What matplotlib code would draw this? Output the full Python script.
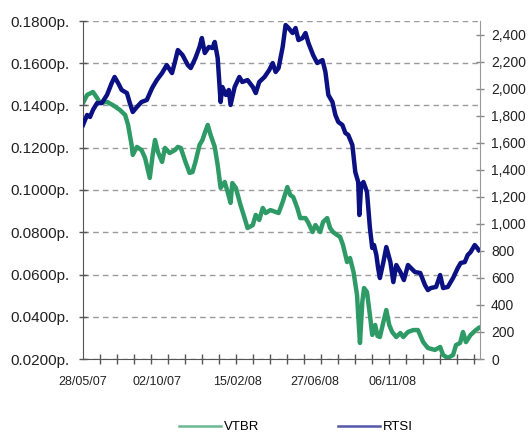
import matplotlib
matplotlib.use("Agg")
import matplotlib.pyplot as plt
import matplotlib.dates as mdates
from matplotlib.ticker import FuncFormatter
import pandas as pd

plt.rcParams['font.family'] = ['Liberation Sans', 'DejaVu Sans']

start = pd.Timestamp('2007-05-28')

# VTBR share price (left axis), days since 28/05/07
vtbr_days = [0, 7, 17, 24, 29, 41, 51, 63, 72, 77, 83, 85, 92, 100, 106, 114, 119, 123,
             128, 135, 140, 148, 157, 162, 167, 175, 182, 187, 192, 199, 204, 208, 213,
             218, 225, 230, 235, 242, 247, 252, 255, 261, 269, 276, 281, 290, 295, 301,
             307, 312, 320, 329, 334, 341, 349, 354, 359, 366, 371, 380, 385, 392, 397,
             405, 410, 417, 422, 427, 434, 439, 444, 451, 456, 462, 468, 470, 473, 477,
             480, 485, 490, 494, 499, 503, 507, 513, 518, 523, 528, 535, 542, 547, 555,
             564, 572, 581, 589, 601, 610, 615, 623, 632, 637, 644, 649, 654, 662, 671, 676]
vtbr = [0.1412, 0.1450, 0.1464, 0.1436, 0.1412, 0.1417, 0.1402, 0.1379, 0.1355, 0.1308,
        0.1213, 0.1166, 0.1204, 0.1189, 0.1152, 0.1057, 0.1166, 0.1237, 0.1180, 0.1133,
        0.1199, 0.1175, 0.1189, 0.1204, 0.1199, 0.1133, 0.1081, 0.1085, 0.1133, 0.1213,
        0.1237, 0.1270, 0.1308, 0.1260, 0.1204, 0.1118, 0.1010, 0.1038, 0.0991, 0.0939,
        0.1033, 0.1010, 0.0929, 0.0867, 0.0820, 0.0834, 0.0882, 0.0858, 0.0915, 0.0891,
        0.0905, 0.0896, 0.0891, 0.0943, 0.1014, 0.0976, 0.0967, 0.0915, 0.0867, 0.0867,
        0.0844, 0.0801, 0.0834, 0.0801, 0.0849, 0.0867, 0.0820, 0.0801, 0.0787, 0.0778,
        0.0740, 0.0659, 0.0678, 0.0612, 0.0503, 0.0408, 0.0276, 0.0470, 0.0536, 0.0517,
        0.0408, 0.0314, 0.0361, 0.0309, 0.0304, 0.0375, 0.0432, 0.0361, 0.0328, 0.0304,
        0.0323, 0.0304, 0.0328, 0.0337, 0.0337, 0.0280, 0.0252, 0.0243, 0.0257, 0.0219,
        0.0205, 0.0219, 0.0266, 0.0276, 0.0328, 0.0280, 0.0314, 0.0337, 0.0347]

# RTSI index (right axis)
rtsi_days = [0, 7, 12, 17, 24, 32, 41, 49, 54, 60, 66, 75, 80, 85, 92, 100, 109, 118, 126,
             135, 143, 152, 157, 162, 170, 179, 184, 192, 199, 203, 208, 215, 221, 225,
             230, 235, 238, 244, 249, 252, 259, 267, 272, 281, 290, 295, 301, 310, 318,
             324, 329, 334, 341, 346, 351, 358, 363, 368, 375, 380, 385, 393, 400, 409,
             414, 419, 426, 431, 436, 443, 448, 453, 460, 465, 470, 472, 475, 479, 485,
             490, 494, 497, 501, 504, 507, 513, 518, 525, 530, 535, 542, 548, 555, 560,
             567, 576, 584, 589, 594, 603, 610, 615, 623, 632, 640, 645, 652, 657, 662,
             669, 676]
rtsi = [1731, 1805, 1790, 1842, 1893, 1893, 1953, 2041, 2086, 2041, 1990, 1967, 1893, 1827,
        1864, 1901, 1916, 2004, 2063, 2115, 2174, 2115, 2197, 2285, 2248, 2174, 2152, 2226,
        2308, 2374, 2263, 2308, 2300, 2345, 2226, 1901, 2012, 1953, 1990, 1879, 2012, 2086,
        2049, 2063, 2012, 1967, 2049, 2086, 2137, 2189, 2123, 2152, 2308, 2470, 2448, 2411,
        2448, 2359, 2374, 2411, 2337, 2248, 2189, 2211, 2123, 1953, 1901, 1805, 1753, 1731,
        1672, 1657, 1583, 1383, 1309, 1065, 1287, 1309, 1235, 969, 821, 843, 769, 673, 599,
        717, 828, 717, 569, 695, 643, 584, 695, 673, 643, 636, 547, 510, 525, 533, 621, 525,
        533, 599, 673, 710, 717, 769, 791, 843, 806]

label_dates = ['2007-05-28', '2007-10-02', '2008-02-15', '2008-06-27', '2008-11-06']
left_ticks = [0.02, 0.04, 0.06, 0.08, 0.10, 0.12, 0.14, 0.16, 0.18]
right_ticks = list(range(0, 2401, 200))

green = '#2e9a66'
navy = '#0b1183'

vtbr_x = start + pd.to_timedelta(vtbr_days, unit='D')
rtsi_x = start + pd.to_timedelta(rtsi_days, unit='D')
end = start + pd.Timedelta(days=678)

fig = plt.figure(figsize=(5.32, 4.36), dpi=100)
ax = fig.add_axes([83 / 532, 1 - 359 / 436, (480 - 83) / 532, (359 - 21) / 436])
ax2 = ax.twinx()

ax.plot(vtbr_x, vtbr, color=green, lw=3.2, solid_joinstyle='round', label='VTBR')
ax2.plot(rtsi_x, rtsi, color=navy, lw=3.2, solid_joinstyle='round', label='RTSI')

ax.set_xlim(start, end)
ax.set_ylim(0.02, 0.18)
ax2.set_ylim(0, 2500)

ax.set_yticks(left_ticks)
ax.yaxis.set_major_formatter(FuncFormatter(lambda v, p: f'{v:.4f}p.'))
ax.tick_params(axis='y', direction='inout', length=6, width=1, color='#555555',
               labelsize=11, labelcolor='#222222', pad=7)

ax2.set_yticks(right_ticks)
ax2.yaxis.set_major_formatter(FuncFormatter(lambda v, p: f'{int(v):,}'))
ax2.tick_params(axis='y', direction='inout', length=6, width=1, color='#888888',
                labelsize=10, labelcolor='#222222', pad=5)

ax.set_xticks(pd.to_datetime(label_dates))
ax.xaxis.set_major_formatter(mdates.DateFormatter('%d/%m/%y'))
ax.set_xticks(pd.date_range(start, end, freq='29D'), minor=True)
ax.tick_params(axis='x', which='major', length=0, labelsize=9, labelcolor='#222222', pad=12)
ax.tick_params(axis='x', which='minor', direction='inout', length=7, width=1, color='#555555')

ax.grid(axis='y', color='#9a9a9a', linestyle=(0, (4, 3)), lw=1)
ax.set_axisbelow(True)

for a in (ax, ax2):
    a.spines['top'].set_visible(False)
ax.spines['left'].set_color('#555555')
ax.spines['bottom'].set_color('#555555')
ax.spines['right'].set_visible(False)
ax2.spines['left'].set_visible(False)
ax2.spines['bottom'].set_visible(False)
ax2.spines['right'].set_color('#999999')

h1, l1 = ax.get_legend_handles_labels()
h2, l2 = ax2.get_legend_handles_labels()
leg = fig.legend(h1 + h2, l1 + l2, loc='center', bbox_to_anchor=(296 / 532, 9 / 436),
                 ncol=2, frameon=False, fontsize=9.5, handlelength=3.2,
                 columnspacing=6, handletextpad=0.2, borderpad=0.2)
for line in leg.get_lines():
    line.set_linewidth(1.8)
    line.set_alpha(0.7)

fig.savefig('out.png', dpi=100)
